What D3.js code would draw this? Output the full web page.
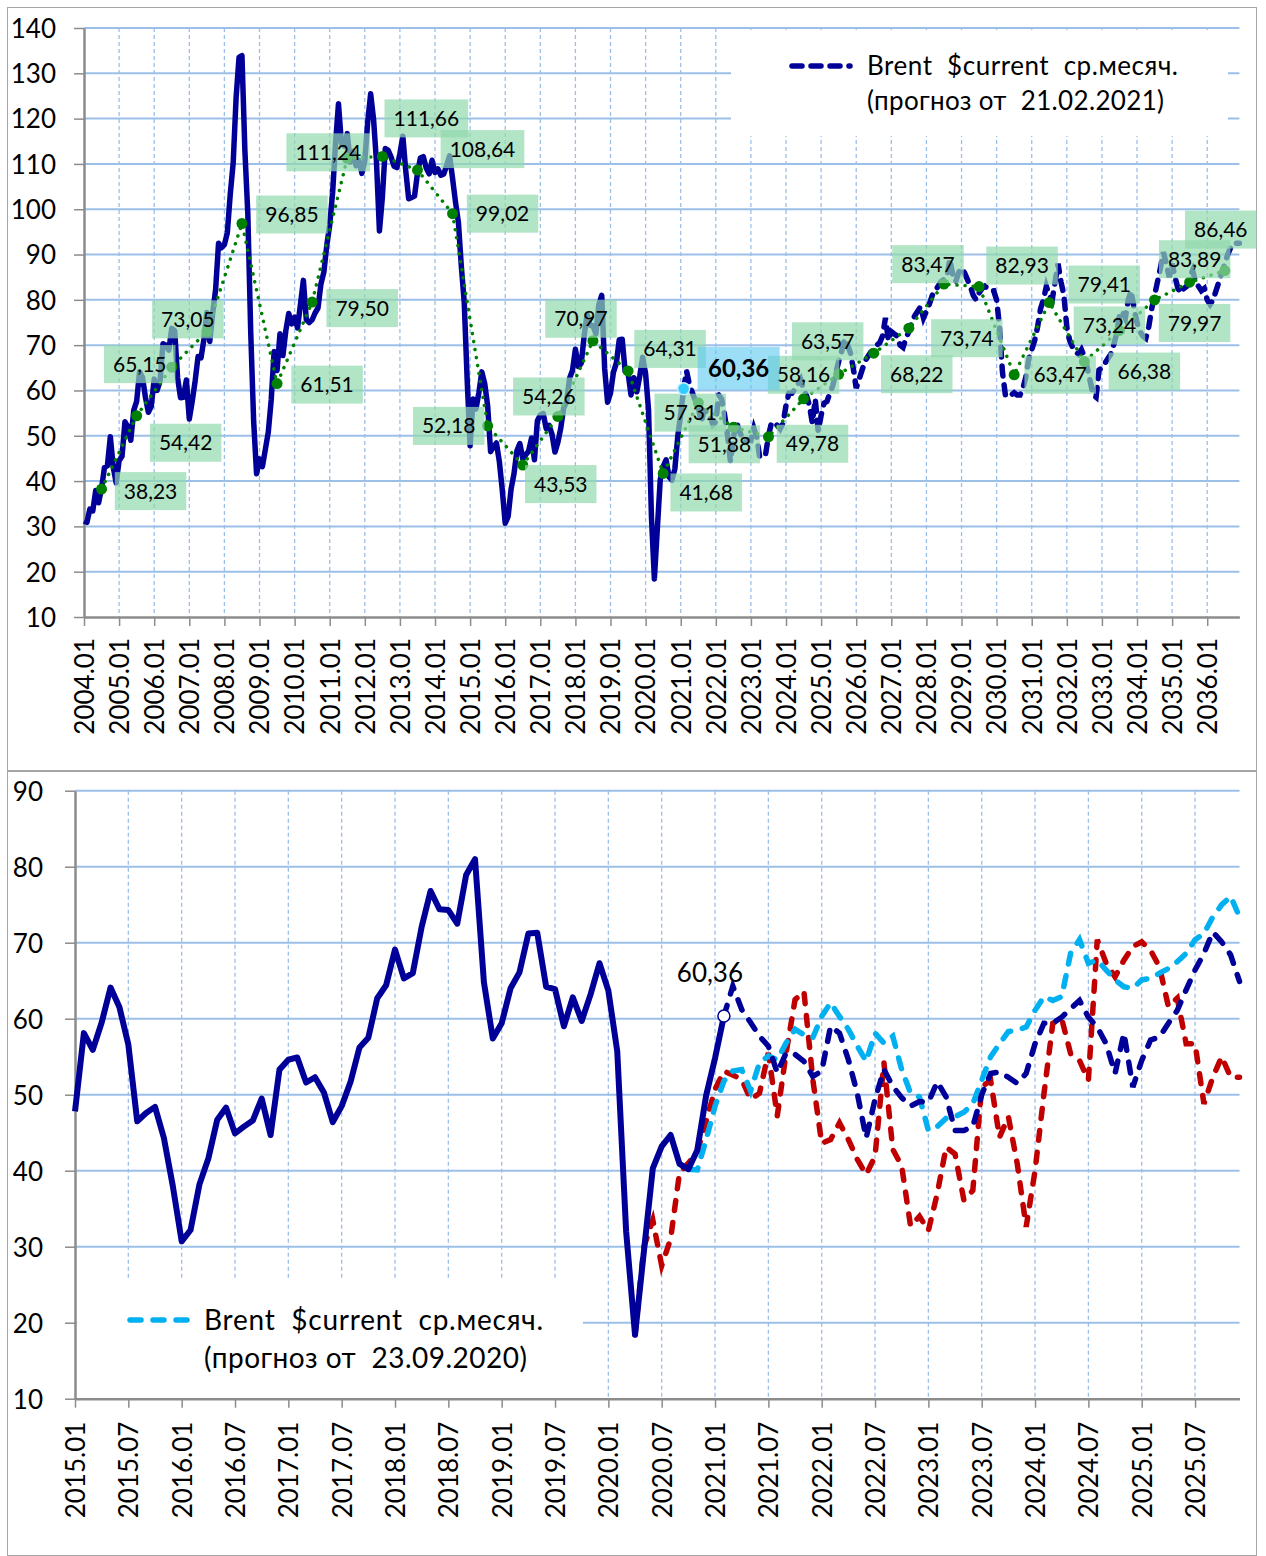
<!DOCTYPE html>
<html>
<head>
<meta charset="utf-8">
<script src="https://cdn.jsdelivr.net/npm/d3@7"></script>
<style>
  body { margin: 0; background: #fff; }
  svg text { font-family: Lato, "Noto Sans", sans-serif; fill: #000; }
</style>
</head>
<body>
<svg id="chart" width="1266" height="1556"></svg>
<script>
// ---------------- data ----------------
var topTicks = ["2004.01", "2005.01", "2006.01", "2007.01", "2008.01", "2009.01", "2010.01", "2011.01",
    "2012.01", "2013.01", "2014.01", "2015.01", "2016.01", "2017.01", "2018.01", "2019.01", "2020.01",
    "2021.01", "2022.01", "2023.01", "2024.01", "2025.01", "2026.01", "2027.01", "2028.01", "2029.01",
    "2030.01", "2031.01", "2032.01", "2033.01", "2034.01", "2035.01", "2036.01"];
var bottomTicks = ["2015.01", "2015.07", "2016.01", "2016.07", "2017.01", "2017.07", "2018.01", "2018.07",
    "2019.01", "2019.07", "2020.01", "2020.07", "2021.01", "2021.07", "2022.01", "2022.07", "2023.01",
    "2023.07", "2024.01", "2024.07", "2025.01", "2025.07"];
var yTicksTop = [10, 20, 30, 40, 50, 60, 70, 80, 90, 100, 110, 120, 130, 140];
var yTicksBottom = [10, 20, 30, 40, 50, 60, 70, 80, 90];

// Brent monthly average, fact: 2004.01 - 2021.02
var brentActual = [
    31.2, 30.9, 33.8, 33.4, 37.9, 35.2, 38.4, 43.0, 43.4, 49.8, 43.1, 39.6,
    44.5, 45.5, 53.1, 51.9, 49.0, 55.6, 57.6, 64.1, 62.9, 58.5, 55.2, 56.5,
    62.5, 60.0, 62.1, 70.3, 70.0, 68.9, 73.7, 73.2, 62.8, 58.4, 58.5, 62.3,
    53.7, 57.6, 62.1, 67.5, 67.2, 71.3, 77.2, 70.8, 77.1, 82.3, 92.5, 91.5,
    92.2, 94.8, 103.3, 110.2, 124.6, 133.5, 133.9, 113.0, 99.1, 72.8, 53.2, 41.6,
    44.9, 43.2, 47.0, 50.8, 57.9, 68.6, 64.4, 72.5, 67.7, 73.2, 77.0, 74.7,
    76.2, 73.8, 79.0, 84.3, 75.6, 75.0, 75.6, 77.1, 78.2, 83.5, 86.1, 92.0,
    96.5, 103.7, 114.6, 123.3, 114.5, 113.9, 116.7, 110.4, 112.8, 109.6, 110.8, 107.9,
    110.7, 119.3, 125.5, 119.8, 110.3, 95.2, 102.6, 113.4, 113.0, 111.5, 109.5, 109.2,
    112.3, 116.1, 108.5, 102.3, 102.6, 102.9, 107.9, 111.3, 111.6, 109.1, 107.8, 110.8,
    108.1, 108.9, 107.5, 107.8, 109.7, 111.8, 106.8, 101.6, 97.1, 87.4, 79.4, 62.3,
    47.8, 58.1, 55.9, 59.5, 64.1, 61.5, 56.6, 46.5, 47.6, 48.4, 44.3, 38.0,
    30.7, 32.2, 38.2, 41.6, 46.7, 48.3, 44.9, 45.8, 46.6, 49.5, 44.7, 53.3,
    54.6, 54.9, 51.6, 52.3, 50.3, 46.4, 48.5, 51.7, 56.2, 57.5, 62.7, 64.4,
    69.1, 65.3, 66.0, 72.1, 76.8, 74.4, 74.3, 72.5, 78.9, 81.0, 64.8, 57.4,
    59.4, 64.0, 66.1, 71.2, 71.3, 64.2, 63.9, 59.0, 62.8, 59.7, 63.2, 67.3,
    63.7, 55.7, 32.0, 18.4, 29.4, 40.3, 43.2, 44.7, 40.9, 40.2, 42.7, 49.9,
    54.8, 60.36
];

// forecast of 21.02.2021: 2021.02 - 2036.12
var forecast2021 = [
    60.36, 64.3, 61.2, 59.5, 57.7, 56.4, 52.9, 55.5, 55.3, 54.4, 52.4,
    53.1, 59.0, 58.1, 54.6, 50.2, 44.3, 49.4, 53.3, 51.1, 49.6, 48.5, 49.1,
    49.0, 51.7, 49.7, 45.3, 45.3, 45.8, 50.0, 52.8, 53.0, 52.3, 51.5, 52.8,
    56.7, 59.4, 59.4, 60.2, 61.3, 62.4, 60.2, 58.9, 56.7, 52.8, 58.1, 51.0,
    54.5, 57.2, 57.6, 59.4, 61.1, 63.8, 66.4, 68.6, 71.4, 70.1, 68.4, 64.9,
    60.5, 62.5, 64.5, 66.5, 67.5, 68.5, 69.0, 70.0, 70.5, 72.0, 76.0, 71.0,
    73.0, 72.5, 72.0, 70.0, 69.5, 71.5, 73.0, 75.0, 76.5, 77.5, 78.5, 76.0,
    77.5, 79.0, 81.0, 82.0, 83.0, 84.0, 84.5, 85.0, 89.0, 85.5, 84.0, 86.0,
    87.0, 86.0, 84.5, 83.0, 81.0, 80.0, 81.5, 82.5, 83.0, 82.5, 82.0, 82.0,
    80.0, 74.0, 64.0, 59.0, 58.5, 59.0, 59.5, 59.0, 59.0, 60.5, 63.0, 67.0,
    69.0, 71.0, 74.0, 78.0, 80.0, 83.0, 81.0, 80.0, 84.0, 88.0, 84.0, 81.0,
    74.0, 71.0, 69.5, 68.5, 68.0, 69.0, 67.5, 65.0, 62.0, 59.0, 58.5, 64.5,
    65.0, 66.0, 67.0, 68.0, 70.0, 72.5, 76.5, 77.5, 76.0, 80.0, 82.0, 78.0,
    75.0, 73.0, 72.0, 71.5, 74.0, 78.0, 81.0, 84.0, 87.0, 90.5, 88.0, 85.0,
    88.0, 85.0, 82.5, 81.5, 82.5, 83.0, 85.0, 86.5, 84.0, 83.0, 82.0, 82.5,
    80.0, 79.0, 80.0, 82.0, 84.0, 86.0, 88.0, 90.0, 91.5, 92.5, 92.5, 92.5
];

// forecast of 23.09.2020: 2020.10 - 2025.12
var forecast2020 = [
    40.2, 40.1, 44.1,
    48.5, 51.8, 53.1, 53.3, 50.5, 54.2, 55.1, 54.6, 56.8, 58.6, 57.9, 57.5,
    60.3, 62.1, 60.3, 58.6, 56.4, 54.4, 58.1, 56.8, 57.7, 53.3, 50.2, 49.7,
    45.3, 45.8, 46.9, 47.1, 47.7, 48.8, 51.9, 55.0, 56.7, 58.3, 58.5, 58.9,
    61.1, 62.9, 62.4, 62.9, 68.6, 70.4, 67.3, 67.7, 66.4, 65.1, 64.2, 64.0,
    65.1, 65.3, 66.0, 66.6, 67.5, 68.6, 70.4, 71.2, 73.4, 75.0, 76.1, 73.4
];

// earlier forecast (red): 2020.04 - 2025.12
var forecastRed = [
    18.4, 30.0, 33.5, 27.5, 31.0, 39.7, 41.0, 42.5, 46.5,
    50.7, 53.1, 52.6, 52.0, 49.4, 50.2, 55.5, 47.2, 55.5, 62.5, 63.6, 52.0,
    43.6, 44.1, 46.3, 44.1, 41.5, 39.5, 41.9, 54.2, 42.8, 40.6, 32.7, 34.0,
    32.1, 37.0, 43.1, 42.2, 36.1, 37.4, 51.0, 51.9, 44.4, 47.1, 40.9, 32.6,
    40.0, 50.1, 59.4, 60.0, 55.4, 54.5, 51.9, 70.4, 67.3, 65.5, 67.7, 69.5,
    70.1, 69.0, 66.8, 61.6, 62.7, 56.7, 56.7, 48.8, 52.3, 55.0, 52.3, 52.3
];

// annual averages 2004 - 2036
var annualAvg = [38.23, 54.42, 65.15, 73.05, 96.85, 61.51, 79.50, 111.24, 111.66, 108.64, 99.02,
    52.18, 43.53, 54.26, 70.97, 64.31, 41.68, 57.31, 51.88, 49.78, 58.16, 63.57, 68.22, 73.74,
    83.47, 82.93, 63.47, 79.41, 66.38, 73.24, 79.97, 83.89, 86.46];

// where each annual label box sits relative to its point (layout only)
var annualLabelShift = [[49, 2], [49, 27], [-32, -3], [-19, -12], [50, -9], [50, 1], [50, 6], [-19, -6],
    [44, -38], [65, -21], [50, 0], [-39, 0], [38, 19], [-9, -20], [-12, -22], [42, -22], [43, 19],
    [-8, 10], [-9, 17], [44, 7], [0, -24], [-11, -33], [43, 21], [58, 10], [-16, -20], [43, -21],
    [46, 0], [55, -18], [60, 10], [-10, -5], [40, 23], [5, -23], [-4, -41]];

var lastFact = 60.36;

// ---------------- helpers ----------------
var navy = "#000099";
var gridColor = "#9cbfe8";
var axisColor = "#8c8c8c";
var comma = function(v) { return d3.format(".2f")(v).replace(".", ","); };

var svg = d3.select("#chart");

// frames of the two charts
svg.append("rect").attr("x", 7.5).attr("y", 7.5).attr("width", 1249).attr("height", 763)
    .attr("fill", "#fff").attr("stroke", "#a6a6a6");
svg.append("rect").attr("x", 7.5).attr("y", 771.5).attr("width", 1249).attr("height", 784)
    .attr("fill", "#fff").attr("stroke", "#a6a6a6");

function drawGrid(g, x, y, xVals, yVals) {
    var x0 = x.range()[0], x1 = x.range()[1];
    var yTop = y.range()[1], yBot = y.range()[0];
    g.selectAll(".hgrid").data(yVals.slice(1)).enter().append("line")
        .attr("x1", x0).attr("x2", x1)
        .attr("y1", function(d) { return y(d); }).attr("y2", function(d) { return y(d); })
        .attr("stroke", gridColor).attr("stroke-width", 2);
    g.selectAll(".vgrid").data(xVals.slice(1)).enter().append("line")
        .attr("x1", function(d) { return x(d); }).attr("x2", function(d) { return x(d); })
        .attr("y1", yTop).attr("y2", yBot)
        .attr("stroke", gridColor).attr("stroke-width", 1.3).attr("stroke-dasharray", "4,3");
}

function drawAxes(g, x, y, xVals, xLabels, yVals, yPad, xPad) {
    var yBot = y.range()[0];
    var xa = g.append("g").attr("transform", "translate(0," + yBot + ")")
        .call(d3.axisBottom(x).tickValues(xVals).tickSize(9).tickSizeOuter(0)
            .tickFormat(function(d, i) { return xLabels[i]; }));
    xa.selectAll("text")
        .attr("transform", "rotate(-90)")
        .attr("text-anchor", "end")
        .attr("x", -xPad).attr("y", 0).attr("dy", "0.36em")
        .style("font-size", "26px");
    var ya = g.append("g").attr("transform", "translate(" + x.range()[0] + ",0)")
        .call(d3.axisLeft(y).tickValues(yVals).tickSize(10).tickSizeOuter(0).tickPadding(yPad));
    ya.selectAll("text").style("font-size", "26px").attr("dy", "0.36em");
    [xa, ya].forEach(function(a) {
        a.select(".domain").attr("stroke", axisColor).attr("stroke-width", 2.5);
        a.selectAll(".tick line").attr("stroke", axisColor).attr("stroke-width", 1.5);
    });
}

// ================= top chart =================
var xT = d3.scaleLinear().domain([0, 395]).range([84, 1239.4]);
var yT = d3.scaleLinear().domain([10, 140]).range([617, 28]);
var gT = svg.append("g");
var yearIdx = topTicks.map(function(d, i) { return i * 12; });

drawGrid(gT, xT, yT, yearIdx, yTicksTop);
// legend area hides the grid
gT.append("rect").attr("x", 731).attr("y", 30).attr("width", 497).attr("height", 106).attr("fill", "#fff");
drawAxes(gT, xT, yT, yearIdx, topTicks, yTicksTop, 18, 21);

var factStartT = 0;
var fcStartT = brentActual.length - 1;

gT.append("path").datum(brentActual)
    .attr("d", d3.line().x(function(d, i) { return xT(factStartT + i); }).y(function(d) { return yT(d); }))
    .attr("fill", "none").attr("stroke", navy).attr("stroke-width", 5.5).attr("stroke-linejoin", "round");

gT.append("path").datum(forecast2021)
    .attr("d", d3.line().x(function(d, i) { return xT(fcStartT + i); }).y(function(d) { return yT(d); }))
    .attr("fill", "none").attr("stroke", navy).attr("stroke-width", 5.5)
    .attr("stroke-dasharray", "10,9").attr("stroke-linecap", "round");

// annual averages
var annX = function(i) { return xT(i * 12 + 6); };
gT.append("path").datum(annualAvg)
    .attr("d", d3.line().x(function(d, i) { return annX(i); }).y(function(d) { return yT(d); }))
    .attr("fill", "none").attr("stroke", "#008000").attr("stroke-width", 3.5)
    .attr("stroke-dasharray", "0.1,8").attr("stroke-linecap", "round");
gT.selectAll(".ann").data(annualAvg).enter().append("circle")
    .attr("cx", function(d, i) { return annX(i); }).attr("cy", function(d) { return yT(d); })
    .attr("r", 5.5).attr("fill", "#008000");

var lab = gT.selectAll(".alab").data(annualAvg).enter().append("g")
    .attr("transform", function(d, i) {
        return "translate(" + (annX(i) + annualLabelShift[i][0]) + "," + (yT(d) + annualLabelShift[i][1]) + ")";
    });
lab.append("rect").attr("class", "box");
lab.append("text").text(function(d) { return comma(d); })
    .attr("text-anchor", "middle").attr("dy", "0.36em").style("font-size", "21px");
lab.each(function() {
    var w = d3.select(this).select("text").node().getComputedTextLength() + 18;
    d3.select(this).select("rect")
        .attr("x", -w / 2).attr("y", -19).attr("width", w).attr("height", 38)
        .attr("fill", "#92d9ae").attr("fill-opacity", 0.7);
});

// last fact point
var lx = xT(fcStartT), ly = yT(lastFact);
gT.append("rect").attr("x", lx + 14).attr("y", ly - 42).attr("width", 82).attr("height", 43)
    .attr("fill", "#5ac8f0").attr("fill-opacity", 0.6);
gT.append("text").attr("x", lx + 55).attr("y", ly - 20).attr("dy", "0.36em")
    .attr("text-anchor", "middle").style("font-size", "24px").style("font-weight", "bold")
    .text(comma(lastFact));
gT.append("circle").attr("cx", lx).attr("cy", ly).attr("r", 6)
    .attr("fill", "#33ccff").attr("stroke", "#c8f0ff").attr("stroke-width", 1.5);

// legend
gT.append("line").attr("x1", 792).attr("x2", 850).attr("y1", 66).attr("y2", 66)
    .attr("stroke", navy).attr("stroke-width", 5.5).attr("stroke-dasharray", "10,9").attr("stroke-linecap", "round");
gT.append("text").attr("x", 867).attr("y", 66).attr("dy", "0.36em").style("font-size", "26px")
    .style("white-space", "pre").attr("textLength", 311).attr("lengthAdjust", "spacing")
    .text("Brent  $current  ср.месяч.");
gT.append("text").attr("x", 867).attr("y", 101).attr("dy", "0.36em").style("font-size", "26px")
    .style("white-space", "pre").attr("textLength", 297).attr("lengthAdjust", "spacing")
    .text("(прогноз от  21.02.2021)");

// ================= bottom chart =================
var offB = 132; // 2015.01 in the monthly index of the top chart
var xB = d3.scaleLinear().domain([0, 131]).range([75, 1239.5]);
var yB = d3.scaleLinear().domain([10, 90]).range([1398.7, 790.7]);
var gB = svg.append("g");
var halfIdx = bottomTicks.map(function(d, i) { return i * 6; });

drawGrid(gB, xB, yB, halfIdx, yTicksBottom);
gB.append("rect").attr("x", 77).attr("y", 1280).attr("width", 506).attr("height", 117).attr("fill", "#fff");
drawAxes(gB, xB, yB, halfIdx, bottomTicks, yTicksBottom, 22, 23);

function bLine(data, start) {
    return d3.line().x(function(d, i) { return xB(start + i - offB); }).y(function(d) { return yB(d); })(data);
}

gB.append("path").attr("d", bLine(forecastRed, 195))
    .attr("fill", "none").attr("stroke", "#c00000").attr("stroke-width", 5.5)
    .attr("stroke-dasharray", "10,12").attr("stroke-linecap", "round");
gB.append("path").attr("d", bLine(forecast2020, 201))
    .attr("fill", "none").attr("stroke", "#00b0f0").attr("stroke-width", 5.5)
    .attr("stroke-dasharray", "11,12").attr("stroke-linecap", "round");
gB.append("path").attr("d", bLine(forecast2021.slice(0, 59), fcStartT))
    .attr("fill", "none").attr("stroke", navy).attr("stroke-width", 5.5)
    .attr("stroke-dasharray", "11,12").attr("stroke-linecap", "round");
gB.append("path").attr("d", bLine(brentActual.slice(offB), offB))
    .attr("fill", "none").attr("stroke", navy).attr("stroke-width", 6).attr("stroke-linejoin", "round");

var bx = xB(fcStartT - offB), by = yB(lastFact);
gB.append("circle").attr("cx", bx).attr("cy", by).attr("r", 6)
    .attr("fill", "#fff").attr("stroke", navy).attr("stroke-width", 1.5);
gB.append("text").attr("x", bx - 14).attr("y", by - 43).attr("dy", "0.36em")
    .attr("text-anchor", "middle").style("font-size", "26px").text(comma(lastFact));

// legend
gB.append("line").attr("x1", 130).attr("x2", 195).attr("y1", 1320).attr("y2", 1320)
    .attr("stroke", "#00b0f0").attr("stroke-width", 5.5).attr("stroke-dasharray", "11,12").attr("stroke-linecap", "round");
gB.append("text").attr("x", 204).attr("y", 1320).attr("dy", "0.36em").style("font-size", "28px")
    .style("white-space", "pre").attr("textLength", 339).attr("lengthAdjust", "spacing")
    .text("Brent  $current  ср.месяч.");
gB.append("text").attr("x", 204).attr("y", 1358).attr("dy", "0.36em").style("font-size", "28px")
    .style("white-space", "pre").attr("textLength", 323).attr("lengthAdjust", "spacing")
    .text("(прогноз от  23.09.2020)");
</script>
</body>
</html>
